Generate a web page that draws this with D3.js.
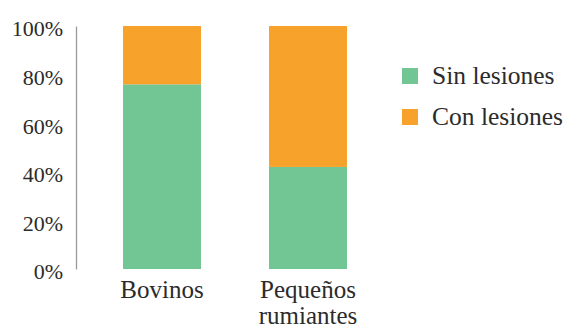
<!DOCTYPE html>
<html>
<head>
<meta charset="utf-8">
<script src="https://cdn.jsdelivr.net/npm/d3@7"></script>
<style>
  html, body { margin: 0; padding: 0; background: #fff; font-family: "Liberation Serif", serif; }
  svg { display: block; }
  svg text { font-family: "Liberation Serif", "Times New Roman", Times, serif; }
</style>
</head>
<body>
<svg id="chart" width="568" height="329" font-family="Liberation Serif"></svg>
<script>
// Share of animals with and without lesions, per species group (percent)
const categories = ["Bovinos", "Pequeños rumiantes"];
const categoryLines = [["Bovinos"], ["Pequeños", "rumiantes"]];
const seriesNames = ["Sin lesiones", "Con lesiones"];
const sinLesiones = [76, 42];
const conLesiones = [24, 58];
const yTicks = [0, 20, 40, 60, 80, 100];
const colors = ["#72c693", "#f7a22b"];

const FONT = "Liberation Serif";
const INK = "#2b2b2b";

const svg = d3.select("#chart");

const table = categories.map((c, i) => ({
  category: c,
  "Sin lesiones": sinLesiones[i],
  "Con lesiones": conLesiones[i]
}));

const stacked = d3.stack().keys(seriesNames)(table);

const x = d3.scaleBand()
  .domain(categories)
  .range([89, 381])
  .paddingInner(0.466)
  .paddingOuter(0.233);

const y = d3.scaleLinear()
  .domain([0, 100])
  .range([269, 26]);

const color = d3.scaleOrdinal().domain(seriesNames).range(colors);

// Bars
svg.append("g")
  .selectAll("g")
  .data(stacked)
  .join("g")
  .attr("fill", d => color(d.key))
  .selectAll("rect")
  .data(d => d)
  .join("rect")
  .attr("x", d => x(d.data.category))
  .attr("width", x.bandwidth())
  .attr("y", d => y(d[1]))
  .attr("height", d => y(d[0]) - y(d[1]));

// Y axis: plain vertical line with percentage labels
const yAxis = svg.append("g")
  .attr("transform", "translate(76,0)")
  .call(d3.axisLeft(y).tickValues(yTicks).tickSize(0).tickPadding(13)
    .tickFormat(d => d + "%"));
yAxis.attr("font-family", FONT).attr("font-size", 22);
yAxis.select(".domain").attr("stroke", "#9a9a9a").attr("stroke-width", 1.3);
yAxis.selectAll(".tick text")
  .attr("fill", INK)
  .attr("dy", "0.45em");

// Category labels below the bars
const xl = svg.append("g").attr("font-family", FONT).attr("font-size", 25);
categories.forEach((c, i) => {
  const cx = x(c) + x.bandwidth() / 2;
  const t = xl.append("text")
    .attr("text-anchor", "middle")
    .attr("fill", INK)
    .attr("x", cx)
    .attr("y", 298);
  categoryLines[i].forEach((line, j) => {
    t.append("tspan")
      .attr("x", cx)
      .attr("dy", j === 0 ? 0 : 26)
      .text(line);
  });
});

// Legend
const legend = svg.append("g").attr("font-family", FONT).attr("font-size", 25.5);
seriesNames.forEach((s, i) => {
  const g = legend.append("g").attr("transform", `translate(402,${68 + i * 41})`);
  g.append("rect").attr("width", 16).attr("height", 16).attr("fill", color(s));
  g.append("text")
    .attr("x", 30)
    .attr("y", 16)
    .attr("fill", INK)
    .text(s);
});
</script>
</body>
</html>
